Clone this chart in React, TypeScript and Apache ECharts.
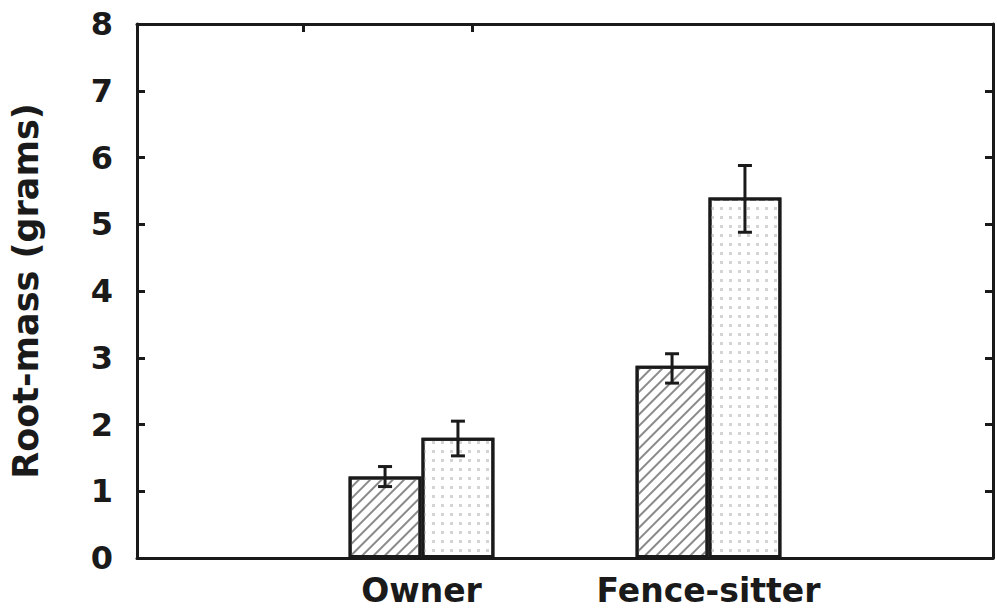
import React, { useEffect, useRef } from "react";
import * as echarts from "echarts";

const categories = ["Owner", "Fence-sitter"];
const hatchedMean = [1.22, 2.88];
const hatchedLow = [1.07, 2.62];
const hatchedHigh = [1.37, 3.06];
const dottedMean = [1.8, 5.4];
const dottedLow = [1.53, 4.88];
const dottedHigh = [2.05, 5.88];
const yTicks = [0, 1, 2, 3, 4, 5, 6, 7, 8];
const topTickValues = [0.97, 1.96];

const FONT = "DejaVu Sans";
const INK = "#1a1a1a";
const BAR_FRAC = 0.254;

function errorSeries(low: number[], high: number[], side: number) {
  return {
    type: "custom",
    xAxisIndex: 0,
    yAxisIndex: 0,
    z: 5,
    data: categories.map((_, i) => [i, low[i], high[i]]),
    encode: { x: 0, y: [1, 2] },
    renderItem: (params: any, api: any) => {
      const i = api.value(0);
      const lo = api.coord([i, api.value(1)]);
      const hi = api.coord([i, api.value(2)]);
      const band = api.size([1, 0])[0];
      const x = lo[0] + side * band * BAR_FRAC * 0.5;
      const cap = 7;
      const style = { stroke: INK, lineWidth: 3, fill: null };
      return {
        type: "group",
        children: [
          { type: "line", shape: { x1: x, y1: lo[1], x2: x, y2: hi[1] }, style },
          { type: "line", shape: { x1: x - cap, y1: lo[1], x2: x + cap, y2: lo[1] }, style },
          { type: "line", shape: { x1: x - cap, y1: hi[1], x2: x + cap, y2: hi[1] }, style },
        ],
      };
    },
  };
}

export default function App() {
  const ref = useRef<HTMLDivElement>(null);
  useEffect(() => {
    const chart = echarts.init(ref.current!, null, { renderer: "svg" });
    const frameLine = { show: true, onZero: false, lineStyle: { color: INK, width: 3 } };
    chart.setOption({
      animation: false,
      backgroundColor: "#fff",
      grid: [
        { left: 278, right: 145, top: 24, bottom: 52 },
        { left: 133, right: 4, top: 24, bottom: 52 },
      ],
      xAxis: [
        {
          type: "category",
          gridIndex: 0,
          data: categories,
          axisLine: { show: false },
          axisTick: { show: false },
          axisLabel: { interval: 0, hideOverlap: false, fontFamily: FONT, fontWeight: "bold", fontSize: 33, color: INK, margin: 16 },
        },
        {
          type: "value",
          gridIndex: 1,
          position: "bottom",
          min: 0,
          max: 5,
          axisLine: frameLine,
          axisTick: { show: false },
          axisLabel: { show: false },
          splitLine: { show: false },
        },
        {
          type: "value",
          gridIndex: 1,
          position: "top",
          min: 0,
          max: 5,
          axisLine: frameLine,
          axisTick: { show: true, inside: true, length: 8, lineStyle: { color: INK, width: 3 }, customValues: topTickValues },
          axisLabel: { show: false },
          splitLine: { show: false },
        },
      ],
      yAxis: [
        { type: "value", gridIndex: 0, min: 0, max: 8, show: false },
        {
          type: "value",
          gridIndex: 1,
          position: "left",
          min: 0,
          max: 8,
          interval: 1,
          name: "Root-mass (grams)",
          nameLocation: "middle",
          nameGap: 94,
          nameTextStyle: { fontFamily: FONT, fontWeight: "bold", fontSize: 35, color: INK },
          axisLine: frameLine,
          axisTick: { show: true, inside: true, length: 8, lineStyle: { color: INK, width: 3 } },
          axisLabel: { fontFamily: FONT, fontWeight: "bold", fontSize: 32, color: INK, margin: 24, customValues: yTicks },
          splitLine: { show: false },
        },
        {
          type: "value",
          gridIndex: 1,
          position: "right",
          min: 0,
          max: 8,
          interval: 1,
          axisLine: frameLine,
          axisTick: { show: true, inside: true, length: 8, lineStyle: { color: INK, width: 3 } },
          axisLabel: { show: false },
          splitLine: { show: false },
        },
      ],
      series: [
        {
          type: "bar",
          xAxisIndex: 0,
          yAxisIndex: 0,
          data: hatchedMean,
          barWidth: `${BAR_FRAC * 100}%`,
          barGap: "0%",
          itemStyle: {
            color: "#fff",
            borderColor: INK,
            borderWidth: 3,
            decal: {
              symbol: "rect",
              symbolSize: 1,
              color: "#8a8a8a",
              backgroundColor: "#fff",
              dashArrayX: [1, 0],
              dashArrayY: [2, 6],
              rotation: -Math.PI / 4,
            },
          },
        },
        {
          type: "bar",
          xAxisIndex: 0,
          yAxisIndex: 0,
          data: dottedMean,
          barWidth: `${BAR_FRAC * 100}%`,
          barGap: "0%",
          itemStyle: {
            color: "#fff",
            borderColor: INK,
            borderWidth: 3,
            decal: {
              symbol: "rect",
              symbolSize: 1,
              color: "#d4d4d4",
              backgroundColor: "#fff",
              dashArrayX: [3, 6],
              dashArrayY: [3, 6],
              rotation: 0,
            },
          },
        },
        errorSeries(hatchedLow, hatchedHigh, -1),
        errorSeries(dottedLow, dottedHigh, 1),
      ],
    });
    return () => chart.dispose();
  }, []);
  return <div ref={ref} style={{ width: 997, height: 610, position: "absolute", left: 0, top: 0 }} />;
}
